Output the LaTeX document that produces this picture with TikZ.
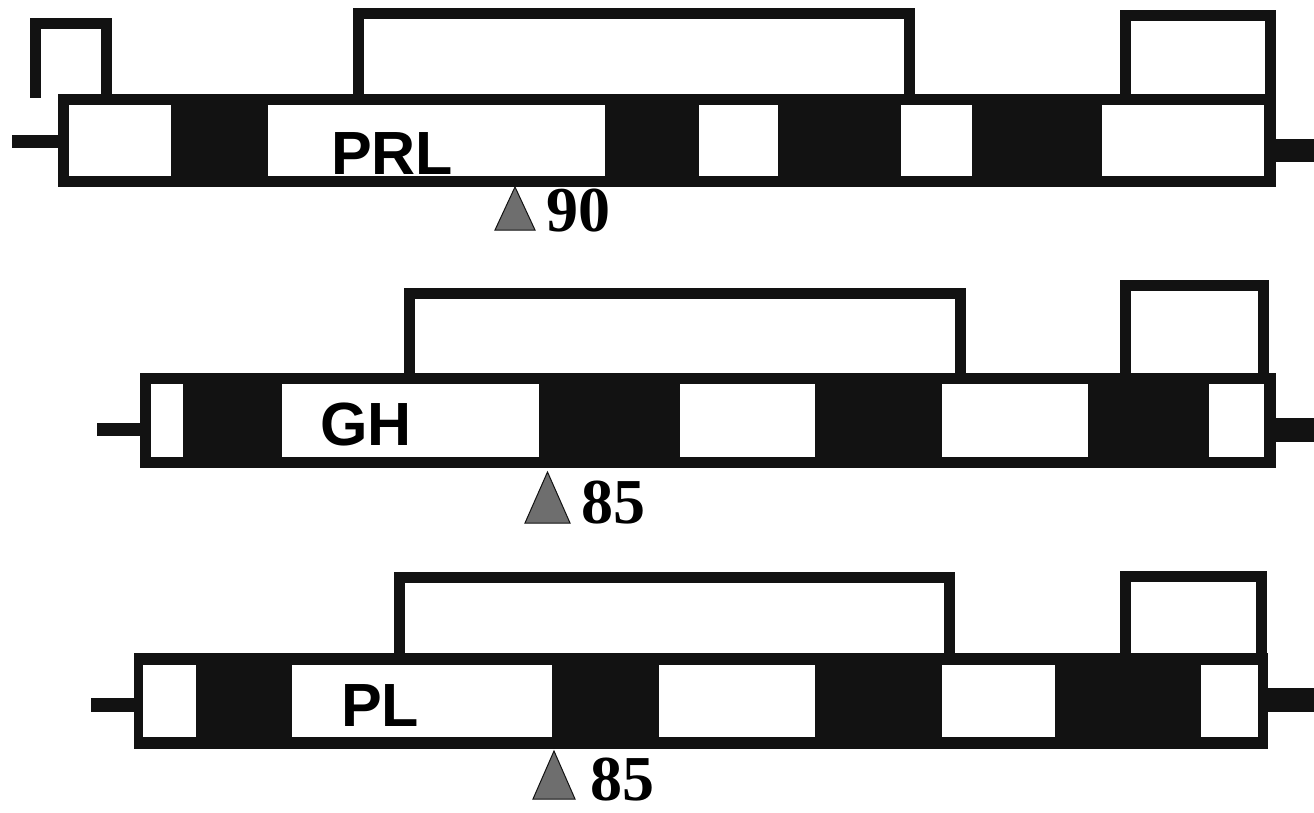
\documentclass[tikz,border=0pt]{standalone}
\usepackage{tikz}
\usepackage{xcolor}
\usepackage{fontspec}
\setmainfont{Liberation Serif}
\setsansfont{Liberation Sans}
\usetikzlibrary{positioning}
\definecolor{geneInk}{RGB}{18,18,18}
\definecolor{siteGray}{RGB}{110,110,110}

\begin{document}
\begin{tikzpicture}[x=1pt, y=-1pt,
      body/.style={fill=geneInk},
      exon/.style={fill=white},
      loopline/.style={draw=geneInk, line width=11pt, line join=miter},
      site/.style={fill=siteGray, draw=geneInk, line width=1pt},
      genename/.style={font=\sffamily\bfseries\fontsize{61}{61}\selectfont, anchor=base west, inner sep=0pt},
      score/.style={font=\bfseries\fontsize{64}{64}\selectfont, anchor=base west, inner sep=0pt}
    ]
    \useasboundingbox (0,0) rectangle (1314,813);

    % PRL
    \draw[loopline] (35.5,98) |- (106.5,23.5) -- (106.5,99);
    \draw[loopline] (358,99) |- (909,14) -- (909,99);
    \draw[loopline] (1125,99) |- (1270,16) -- (1270,99);
    \fill[body] (12,135) rectangle (58,148);
    \fill[body] (1276,139) rectangle (1314,162);
    \fill[body] (58,94) rectangle (1276,187);
    \foreach \a/\b in {69/171,268/605,699/778,901/972,1102/1264} {
      \fill[exon] (\a,105) rectangle (\b,176);
    }
    \node[genename] (prl) at (331,175) {PRL};
    \draw[site] (495,230) -- (515,187) -- (535,230) -- cycle;
    \node[score] (s90) at (546,232) {90};

    % GH
    \draw[loopline] (409,378) |- (960.5,293.5) -- (960.5,378);
    \draw[loopline] (1125,378) |- (1263,285) -- (1263,378);
    \fill[body] (97,423) rectangle (140,436);
    \fill[body] (1276,418) rectangle (1314,442);
    \fill[body] (140,373) rectangle (1276,468);
    \foreach \a/\b in {151/183,282/539,680/815,942/1088,1209/1264} {
      \fill[exon] (\a,384) rectangle (\b,457);
    }
    \node[genename] (gh) at (320,445) {GH};
    \draw[site] (525,523) -- (547.5,472) -- (570,523) -- cycle;
    \node[score] (s85a) at (581,523) {85};

    % PL
    \draw[loopline] (399.5,658) |- (949.5,577.5) -- (949.5,658);
    \draw[loopline] (1125,658) |- (1261.5,576) -- (1261.5,658);
    \fill[body] (91,698) rectangle (134,712);
    \fill[body] (1268,688) rectangle (1314,712);
    \fill[body] (134,653) rectangle (1268,749);
    \foreach \a/\b in {143/196,292/552,659/815,942/1055,1201/1258} {
      \fill[exon] (\a,665) rectangle (\b,737);
    }
    \node[genename] (pl) at (341,726) {PL};
    \draw[site] (533,799) -- (554,751) -- (575,799) -- cycle;
    \node[score] (s85b) at (590,800) {85};
  \end{tikzpicture}
\end{document}
